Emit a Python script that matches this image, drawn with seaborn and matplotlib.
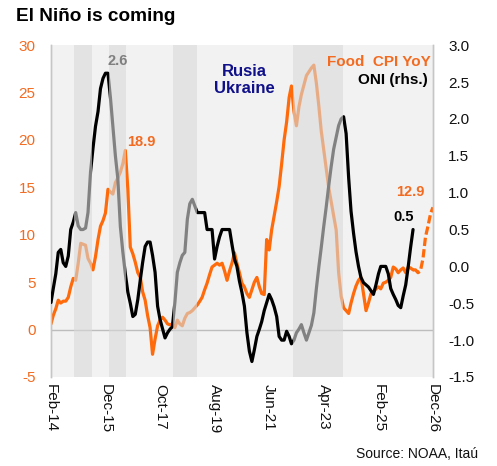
import matplotlib
matplotlib.use("Agg")
import matplotlib.pyplot as plt
import pandas as pd
import seaborn as sns

# ---------------- data (monthly, starting Feb-2014) ----------------
start_month = "2014-02-01"
forecast_from = "2026-04-01"

food_cpi = [
    0.6, 1.5, 2.2, 3.1, 2.8, 3.0, 3.0, 3.4, 4.5, 5.4, 5.2,                 # 2014 Feb-Dec
    7.0, 9.1, 9.0, 8.9, 7.5, 7.0, 6.3, 7.7, 9.5, 10.9, 11.5, 12.3,         # 2015
    14.8, 14.5, 14.3, 15.5, 16.0, 16.6, 17.5, 18.9, 14.8, 8.7, 8.0, 7.1,   # 2016
    6.0, 5.5, 4.0, 3.1, 1.5, 0.2, -2.6, -1.0, 0.4, 1.0, 1.3, 1.0,          # 2017
    0.6, 0.5, 0.6, 0.2, 1.0, 0.6, 0.4, 1.2, 1.7, 1.8, 2.0, 2.3,            # 2018
    2.6, 3.0, 3.4, 4.2, 4.9, 5.8, 6.6, 6.8, 7.0, 6.8, 7.0, 6.2,            # 2019
    5.2, 6.2, 7.0, 8.1, 7.0, 6.0, 4.9, 4.5, 3.8, 3.4, 4.2, 5.0,            # 2020
    5.5, 4.5, 3.8, 3.7, 9.5, 8.4, 10.5, 12.0, 13.5, 15.1, 17.5, 20.0,      # 2021
    21.9, 24.5, 25.7, 23.0, 21.5, 23.5, 24.8, 25.8, 26.8, 27.2, 27.6, 27.9,  # 2022
    26.0, 23.5, 21.0, 19.0, 17.0, 15.0, 13.5, 12.0, 10.5, 6.0, 3.5, 2.3,   # 2023
    2.0, 1.7, 2.8, 3.8, 4.6, 5.2, 5.5, 3.8, 2.0, 2.8, 3.8, 4.0,            # 2024
    4.3, 4.5, 4.3, 4.9, 5.0, 5.2, 5.5, 6.6, 6.4, 6.0, 6.3, 6.5,            # 2025
    6.0, 6.6, 6.5, 6.3, 6.3, 6.0, 6.2, 7.5, 9.8, 10.9, 12.2, 12.9,         # 2026
]

oni = [
    -0.49, -0.30, -0.10, 0.19, 0.23, 0.05, 0.0, 0.14, 0.5, 0.6, 0.73,      # 2014 Feb-Dec
    0.55, 0.5, 0.5, 0.52, 0.73, 1.28, 1.6, 1.9, 2.1, 2.41, 2.55, 2.62,     # 2015
    2.62, 2.28, 1.9, 1.5, 1.19, 0.54, 0.2, -0.1, -0.35, -0.5, -0.68, -0.65,  # 2016
    -0.45, -0.18, 0.05, 0.27, 0.33, 0.33, 0.15, -0.08, -0.54, -0.72, -0.85, -0.97,  # 2017
    -0.9, -0.85, -0.82, -0.49, -0.08, 0.05, 0.15, 0.19, 0.64, 0.85, 0.91, 0.82,     # 2018
    0.73, 0.73, 0.73, 0.73, 0.5, 0.5, 0.5, 0.1, 0.27, 0.4, 0.5, 0.5,       # 2019
    0.5, 0.5, 0.3, 0.1, 0.0, -0.2, -0.35, -0.54, -0.9, -1.15, -1.29, -1.13,  # 2020
    -0.95, -0.85, -0.75, -0.6, -0.49, -0.38, -0.45, -0.55, -0.68, -0.95, -1.0, -1.0,  # 2021
    -0.88, -0.95, -1.05, -1.0, -0.9, -0.85, -0.79, -0.9, -1.0, -0.9, -0.8, -0.63,     # 2022
    -0.3, 0.0, 0.25, 0.54, 0.8, 1.09, 1.35, 1.59, 1.75, 1.91, 2.0, 2.03,   # 2023
    1.8, 1.2, 0.75, 0.45, 0.2, 0.0, -0.15, -0.22, -0.25, -0.28, -0.33, -0.38,  # 2024
    -0.25, -0.1, 0.0, 0.0, 0.0, -0.1, -0.3, -0.38, -0.45, -0.53, -0.56, -0.4,  # 2025
    -0.25, 0.0, 0.25, 0.5,                                                  # 2026 Jan-Apr
]

bands = [
    ("2014-11-10", "2015-06-15"),
    ("2016-01-12", "2016-08-06"),
    ("2018-03-06", "2018-12-28"),
    ("2022-03-18", "2023-11-20"),
]

x_tick_labels = ["Feb-14", "Dec-15", "Oct-17", "Aug-19", "Jun-21", "Apr-23", "Feb-25", "Dec-26"]
left_ticks = [-5, 0, 5, 10, 15, 20, 25, 30]
right_ticks = [-1.5, -1.0, -0.5, 0.0, 0.5, 1.0, 1.5, 2.0, 2.5, 3.0]

# ---------------- frames ----------------
food_df = pd.DataFrame({
    "date": pd.date_range(start_month, periods=len(food_cpi), freq="MS"),
    "value": food_cpi,
})
oni_df = pd.DataFrame({
    "date": pd.date_range(start_month, periods=len(oni), freq="MS"),
    "value": oni,
})
fc = pd.Timestamp(forecast_from)
food_hist = food_df[food_df["date"] <= fc]
food_fcst = food_df[food_df["date"] >= fc]

# ---------------- style ----------------
sns.set_style("white")
plt.rcParams["font.family"] = ["Liberation Sans", "DejaVu Sans"]

ORANGE = "#FF6A0A"
ORANGE_TXT = "#F26B21"
NAVY = "#10108A"

fig = plt.figure(figsize=(4.97, 4.66), dpi=100)
ax = fig.add_axes([0.1026, 0.191, 0.7685, 0.712])
ax.set_facecolor("#f2f2f2")
ax2 = ax.twinx()

ax.axhline(0, color="#bdbdbd", lw=1.0, zorder=1)

sns.lineplot(data=food_hist, x="date", y="value", ax=ax, color=ORANGE, lw=2.3, zorder=3)
sns.lineplot(data=food_fcst, x="date", y="value", ax=ax, color=ORANGE, lw=2.3,
             linestyle=(0, (2.6, 1.0)), zorder=3)
sns.lineplot(data=oni_df, x="date", y="value", ax=ax2, color="black", lw=2.3, zorder=3)

for d0, d1 in bands:
    ax2.axvspan(pd.Timestamp(d0), pd.Timestamp(d1), color="#d9d9d9", alpha=0.6, lw=0, zorder=10)

# axes limits / ticks
ax.set_xlim(pd.Timestamp("2014-02-01"), pd.Timestamp("2026-12-01"))
ax.set_ylim(-5, 30)
ax2.set_ylim(-1.5, 3.0)

xt = [pd.to_datetime(s, format="%b-%y") for s in x_tick_labels]
ax.set_xticks(xt)
ax.set_xticklabels(x_tick_labels, rotation=-90, ha="center", va="top", fontsize=11, color="#111111")
ax.set_yticks(left_ticks)
ax.set_yticklabels([str(t) for t in left_ticks], fontsize=11, color=ORANGE_TXT)
ax2.set_yticks(right_ticks)
ax2.set_yticklabels([f"{t:.1f}" for t in right_ticks], fontsize=11, color="#111111")

ax.tick_params(axis="x", length=0, pad=5)
ax.tick_params(axis="y", length=0, pad=11)
ax2.tick_params(axis="y", length=0, pad=11)
for a in (ax, ax2):
    a.set_xlabel("")
    a.set_ylabel("")
    a.grid(False)
    for s in ("top", "bottom"):
        a.spines[s].set_visible(False)
    for s in ("left", "right"):
        a.spines[s].set_color("#c6c6c6")
        a.spines[s].set_linewidth(1.0)

# annotations
ax.text(pd.Timestamp("2017-02-10"), 19.8, "18.9", color=ORANGE_TXT, fontsize=10.5,
        fontweight="bold", ha="center", va="center")
ax.text(pd.Timestamp("2026-03-01"), 14.5, "12.9", color=ORANGE_TXT, fontsize=10.5,
        fontweight="bold", ha="center", va="center")
ax2.text(pd.Timestamp("2016-05-01"), 2.79, "2.6", color="#7f7f7f", fontsize=10.5,
         fontweight="bold", ha="center", va="center", zorder=20)
ax2.text(pd.Timestamp("2025-12-01"), 0.67, "0.5", color="black", fontsize=10.5,
         fontweight="bold", ha="center", va="center", zorder=20)
ax.text(pd.Timestamp("2020-08-01"), 26.3, "Rusia\nUkraine", color=NAVY, fontsize=12,
        fontweight="bold", ha="center", va="center", linespacing=1.15)
ax2.text(0.993, 0.949, "Food  CPI YoY", transform=ax2.transAxes, color=ORANGE_TXT,
         fontsize=11, fontweight="bold", ha="right", va="center", zorder=20)
ax2.text(0.987, 0.895, "ONI (rhs.)", transform=ax2.transAxes, color="black",
         fontsize=11, fontweight="bold", ha="right", va="center", zorder=20)

fig.text(0.032, 0.955, "El Niño is coming", fontsize=13.7, fontweight="bold",
         ha="left", va="baseline", color="black")
fig.text(0.962, 0.017, "Source: NOAA, Itaú", fontsize=10, ha="right", va="baseline",
         color="#111111")

fig.savefig("out.png", dpi=100)
